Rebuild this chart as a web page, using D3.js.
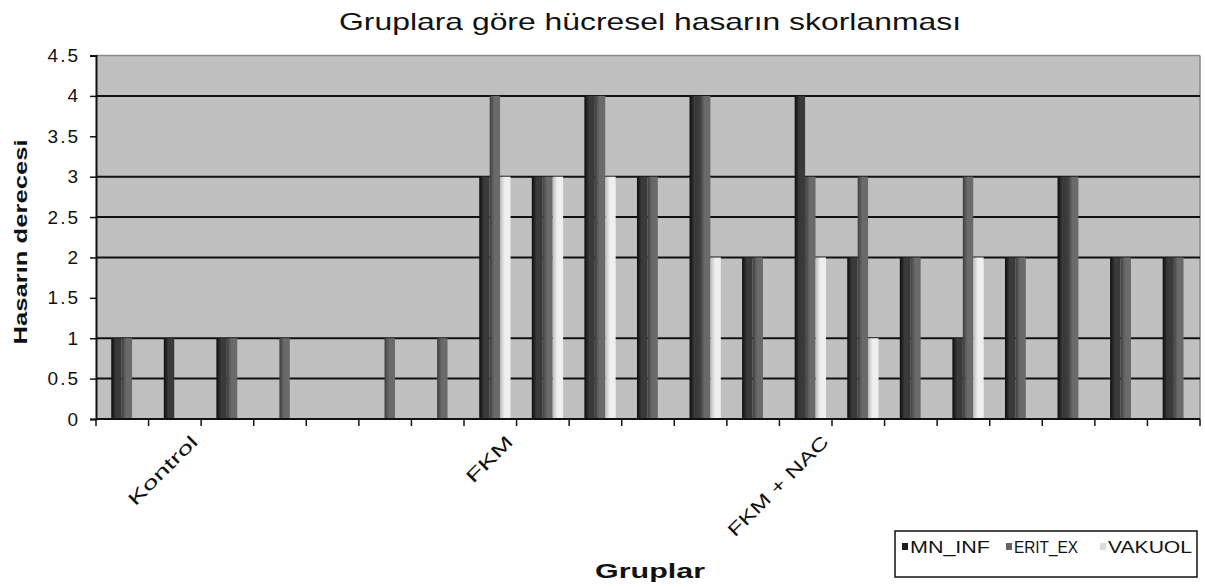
<!DOCTYPE html>
<html>
<head>
<meta charset="utf-8">
<script src="https://cdn.jsdelivr.net/npm/d3@7/dist/d3.min.js"></script>
<style>
  html, body { margin: 0; padding: 0; background: #fff; }
  svg { display: block; }
  text { font-family: "Liberation Sans", Arial, sans-serif; fill: #111; }
</style>
</head>
<body>
<svg id="chart" width="1205" height="587"></svg>
<script>
// Cellular damage scores per animal, three groups of seven
const categoryLabels = ["", "Kontrol", "", "", "", "", "", "FKM", "", "", "", "", "", "FKM + NAC", "", "", "", "", "", "", ""];
const seriesNames = ["MN_INF", "ERIT_EX", "VAKUOL"];
const mnInf  = [1, 1, 1, 0, 0, 0, 0, 3, 3, 4, 3, 4, 2, 4, 2, 2, 1, 2, 3, 2, 2];
const eritEx = [1, 0, 1, 1, 0, 1, 1, 4, 3, 4, 3, 4, 2, 3, 3, 2, 3, 2, 3, 2, 2];
const vakuol = [0, 0, 0, 0, 0, 0, 0, 3, 3, 3, 0, 2, 0, 2, 1, 0, 2, 0, 0, 0, 0];
const yTicks = [0, 0.5, 1, 1.5, 2, 2.5, 3, 3.5, 4, 4.5];
const gridValues = [0.5, 1, 2, 2.5, 3, 4];

const seriesValues = [mnInf, eritEx, vakuol];
const seriesFill = [
  ["#0c0c0c", "#3a3a3a"],
  ["#3e3e3e", "#6a6a6a"],
  ["#bdbdbd", "#efefef"]
];
const legendFill = ["#1e1e1e", "#666666", "#dcdcdc"];

const svg = d3.select("#chart");
const plot = { left: 96, right: 1200, top: 55.5, bottom: 419 };

const x = d3.scaleBand().domain(d3.range(categoryLabels.length))
  .range([plot.left, plot.right]).paddingInner(0).paddingOuter(0);
const bw = x.bandwidth();
const xs = d3.scaleBand().domain(seriesNames).range([0.29 * bw, 0.885 * bw]).padding(0);
const y = d3.scaleLinear().domain([0, 4.5]).range([plot.bottom, plot.top]);

// gradients giving each column a shaded left edge
const defs = svg.append("defs");
seriesNames.forEach((name, i) => {
  const g = defs.append("linearGradient").attr("id", "g" + i)
    .attr("x1", "0%").attr("x2", "100%").attr("y1", "0%").attr("y2", "0%");
  g.append("stop").attr("offset", "0%").attr("stop-color", seriesFill[i][0]);
  g.append("stop").attr("offset", "45%").attr("stop-color", seriesFill[i][1]);
  g.append("stop").attr("offset", "100%").attr("stop-color", seriesFill[i][1]);
});

// plot background
svg.append("rect")
  .attr("x", plot.left).attr("y", plot.top)
  .attr("width", plot.right - plot.left).attr("height", plot.bottom - plot.top)
  .attr("fill", "#c0c0c0").attr("stroke", "none");

// frame lines (top and right)
svg.append("line").attr("x1", plot.left).attr("x2", plot.right)
  .attr("y1", plot.top).attr("y2", plot.top).attr("stroke", "#8a8a8a").attr("stroke-width", 1.5);
svg.append("line").attr("x1", plot.right).attr("x2", plot.right)
  .attr("y1", plot.top).attr("y2", plot.bottom).attr("stroke", "#8a8a8a").attr("stroke-width", 1.5);

// horizontal gridlines
svg.append("g").selectAll("line").data(gridValues).join("line")
  .attr("x1", plot.left).attr("x2", plot.right)
  .attr("y1", d => y(d)).attr("y2", d => y(d))
  .attr("stroke", "#111").attr("stroke-width", 2);

// columns
const groups = svg.append("g").selectAll("g").data(d3.range(categoryLabels.length)).join("g")
  .attr("transform", i => `translate(${x(i)},0)`);
groups.selectAll("rect")
  .data(i => seriesNames.map((s, k) => ({ s, k, v: seriesValues[k][i] })).filter(d => d.v > 0))
  .join("rect")
  .attr("x", d => xs(d.s)).attr("width", xs.bandwidth())
  .attr("y", d => y(d.v)).attr("height", d => y(0) - y(d.v))
  .attr("fill", d => `url(#g${d.k})`);

// y axis
const yAxis = svg.append("g").attr("transform", `translate(${plot.left},0)`)
  .call(d3.axisLeft(y).tickValues(yTicks).tickSize(6).tickPadding(10).tickFormat(d3.format("")));
yAxis.select(".domain").attr("stroke", "#111").attr("stroke-width", 2);
yAxis.selectAll(".tick line").attr("stroke", "#111").attr("stroke-width", 1.5);
yAxis.selectAll(".tick text").attr("font-size", 19).attr("letter-spacing", "2px")
  .attr("fill", "#222").style("font-family", "'Liberation Sans Narrow', 'Liberation Sans', sans-serif");

// x axis with ticks at category boundaries
const xAxisG = svg.append("g");
xAxisG.append("line").attr("x1", plot.left).attr("x2", plot.right)
  .attr("y1", plot.bottom).attr("y2", plot.bottom).attr("stroke", "#111").attr("stroke-width", 2);
const boundaries = d3.range(categoryLabels.length + 1).map(i => plot.left + i * bw);
xAxisG.selectAll("line.tk").data(boundaries).join("line").attr("class", "tk")
  .attr("x1", d => d).attr("x2", d => d)
  .attr("y1", plot.bottom).attr("y2", plot.bottom + 7)
  .attr("stroke", "#111").attr("stroke-width", 1.5);

// rotated category labels, stretched to their set run lengths
const labelRun = { "Kontrol": 90, "FKM": 58, "FKM + NAC": 134 };
xAxisG.selectAll("text").data(categoryLabels.map((t, i) => ({ t, i })).filter(d => d.t))
  .join("text")
  .attr("transform", d => `translate(${x(d.i) + bw / 2 + 24},${plot.bottom + 24}) rotate(-45)`)
  .attr("text-anchor", "end")
  .attr("font-size", 18)
  .attr("textLength", d => labelRun[d.t]).attr("lengthAdjust", "spacingAndGlyphs")
  .text(d => d.t);

// title
svg.append("text").attr("x", 650).attr("y", 30).attr("text-anchor", "middle")
  .attr("font-size", 24).attr("textLength", 622).attr("lengthAdjust", "spacingAndGlyphs")
  .text("Gruplara göre hücresel hasarın skorlanması");

// axis titles
svg.append("text")
  .attr("transform", "translate(27,242) rotate(-90)")
  .attr("text-anchor", "middle").attr("font-size", 19).attr("font-weight", "bold")
  .attr("textLength", 205).attr("lengthAdjust", "spacingAndGlyphs")
  .text("Hasarın derecesi");
svg.append("text").attr("x", 650).attr("y", 578).attr("text-anchor", "middle")
  .attr("font-size", 21).attr("font-weight", "bold")
  .attr("textLength", 110).attr("lengthAdjust", "spacingAndGlyphs")
  .text("Gruplar");

// legend
const lg = svg.append("g");
lg.append("rect").attr("x", 895).attr("y", 531).attr("width", 302).attr("height", 46)
  .attr("fill", "#fff").attr("stroke", "#111").attr("stroke-width", 1.5);
const legendX = [902, 1006, 1100];
const legendLen = [80, 64, 84];
seriesNames.forEach((name, i) => {
  lg.append("rect").attr("x", legendX[i]).attr("y", 543).attr("width", 6).attr("height", 7)
    .attr("fill", legendFill[i]);
  lg.append("text").attr("x", legendX[i] + 8).attr("y", 553)
    .attr("font-size", 16).attr("textLength", legendLen[i]).attr("lengthAdjust", "spacingAndGlyphs")
    .text(name);
});
</script>
</body>
</html>
